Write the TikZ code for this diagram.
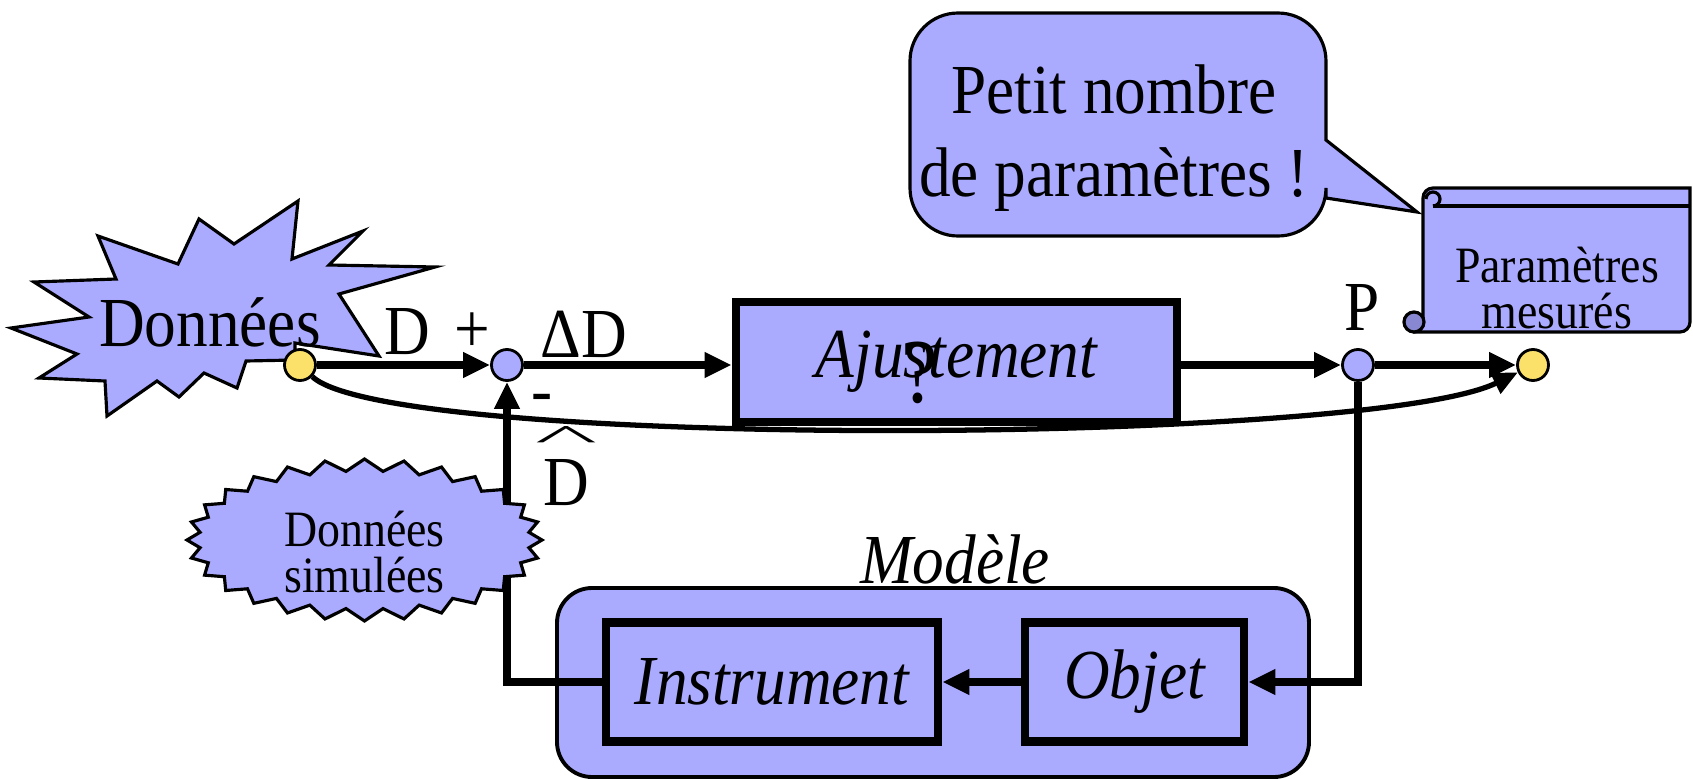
\documentclass[tikz,border=0pt]{standalone}
\usepackage{amsmath}
\usepackage{graphicx}
\usepackage{fontspec}
\setmainfont{Liberation Serif}[FakeStretch=0.9]
\usetikzlibrary{arrows.meta,shapes.symbols,positioning}

\begin{document}
\begin{tikzpicture}[x=1cm,y=1cm,
  bloc/.style={draw,line width=2.5pt,fill=clav,inner sep=0pt,font=\fontsize{20}{23}\selectfont\itshape},
  rond/.style={circle,draw,line width=0.8pt,minimum size=0.31cm,inner sep=0pt},
  fleche/.style={line width=2pt,-{Triangle[length=0.27cm,width=0.24cm]}},
  etiq/.style={font=\fontsize{20}{23.7}\selectfont},
  petit/.style={font=\fontsize{14.5}{13.2}\selectfont,align=center},
  simu/.style={starburst,starburst points=28,starburst point height=0.12cm,random starburst=0,
    draw,fill=clav,line width=0.9pt,minimum width=3.55cm,minimum height=1.62cm,inner sep=0pt}]
\definecolor{clav}{RGB}{170,170,255}
\definecolor{cjaune}{RGB}{251,225,105}
\definecolor{cfonce}{RGB}{136,136,210}
\useasboundingbox (0,0) rectangle (16.93,-7.79);
\draw[fill=clav,line width=0.9pt] (9.10,-1.20) [rounded corners=0.48cm] -- (9.10,-0.13) -- (13.26,-0.13) [sharp corners] -- (13.26,-1.40) -- (14.17,-2.12) -- (13.26,-1.98) [rounded corners=0.48cm] -- (13.26,-2.36) -- (9.10,-2.36) -- cycle;
\node[etiq,align=center] (bulle) at (11.14,-1.38) {Petit nombre\\de paramètres !};
\draw[fill=clav,line width=0.9pt] (14.23,-1.98) -- (14.23,-3.22) arc[start angle=0,end angle=-90,radius=0.1] -- (16.80,-3.32) arc[start angle=-90,end angle=0,radius=0.1] -- (16.90,-1.88) -- (14.33,-1.88) arc[start angle=90,end angle=180,radius=0.1] -- cycle;
\draw[line width=0.9pt] (14.33,-2.06) -- (16.90,-2.06);
\draw[line width=0.9pt] (14.33,-2.06) arc[start angle=-90,end angle=180,radius=0.07];
\draw[fill=cfonce,line width=0.9pt] (14.14,-3.22) circle (0.1);
\node[petit] (mesures) at (15.57,-2.88) {Paramètres\\mesurés};
\draw[fill=clav,line width=0.9pt] (0.11,-3.28) -- (0.89,-3.17) -- (0.34,-2.82) -- (1.16,-2.79) -- (0.98,-2.36) -- (1.78,-2.64) -- (1.99,-2.19) -- (2.34,-2.44) -- (2.98,-2.01) -- (2.92,-2.59) -- (3.63,-2.31) -- (3.29,-2.65) -- (4.35,-2.67) -- (3.39,-2.94) -- (3.79,-3.56) -- (2.95,-3.43) -- (2.95,-3.60) -- (2.46,-3.61) -- (2.37,-3.88) -- (2.04,-3.73) -- (1.79,-3.97) -- (1.57,-3.81) -- (1.07,-4.16) -- (1.05,-3.81) -- (0.39,-3.78) -- (0.77,-3.54) -- cycle;
\node[etiq] (donnees) at (2.10,-3.22) {Données};
\node[draw,fill=clav,rounded corners=0.35cm,line width=1.1pt,minimum width=7.52cm,minimum height=1.89cm] (modele) at (9.33,-6.825) {};
\node[etiq,font=\fontsize{20}{23}\selectfont\itshape] (lmodele) at (9.55,-5.59) {Modèle};
\node[bloc,minimum width=3.32cm,minimum height=1.19cm] (instr) at (7.72,-6.82) {Instrument};
\node[bloc,minimum width=2.19cm,minimum height=1.19cm] (objet) at (11.345,-6.82) {Objet};
\node[bloc,minimum width=4.41cm,minimum height=1.20cm] (ajust) at (9.565,-3.62) {Ajustement};
\node[font=\fontsize{26}{26}\selectfont] (quest) at (9.20,-3.73) {?};
\node[etiq] (ld) at (4.07,-3.32) {D};
\node[etiq] (lplus) at (4.72,-3.33) {+};
\node[etiq] (ldelta) at (5.84,-3.34) {ΔD};
\node[etiq] (lmoins) at (5.42,-4.04) {-};
\node[etiq,inner sep=0pt] (ldchap) at (5.66,-4.66) {\shortstack{\scalebox{2.1}[0.5]{\textasciicircum}\\D}};
\node[etiq] (lp) at (13.62,-3.07) {P};
\node[rond,fill=cjaune] (src) at (3.00,-3.65) {};
\node[rond,fill=clav] (sum) at (5.07,-3.65) {};
\node[rond,fill=clav] (param) at (13.58,-3.65) {};
\node[rond,fill=cjaune] (dst) at (15.33,-3.65) {};
\draw[fleche] (src) -- (sum);
\draw[fleche] (sum) -- (sum -| ajust.west);
\draw[fleche] (param -| ajust.east) -- (param);
\draw[fleche] (param) -- (dst);
\draw[fleche] (param) |- (objet.east);
\draw[fleche] (objet.west) -- (instr.east);
\draw[fleche] (instr.west) -| (sum.south);
\draw[line width=1.5pt,-{Triangle[length=0.25cm,width=0.22cm]}] (src) .. controls (3.9,-4.5) and (13.7,-4.45) .. (dst);
\node[simu] (simul) at (3.645,-5.40) {};
\node[petit] (lsimul) at (3.645,-5.52) {Données\\simulées};
\end{tikzpicture}
\end{document}
